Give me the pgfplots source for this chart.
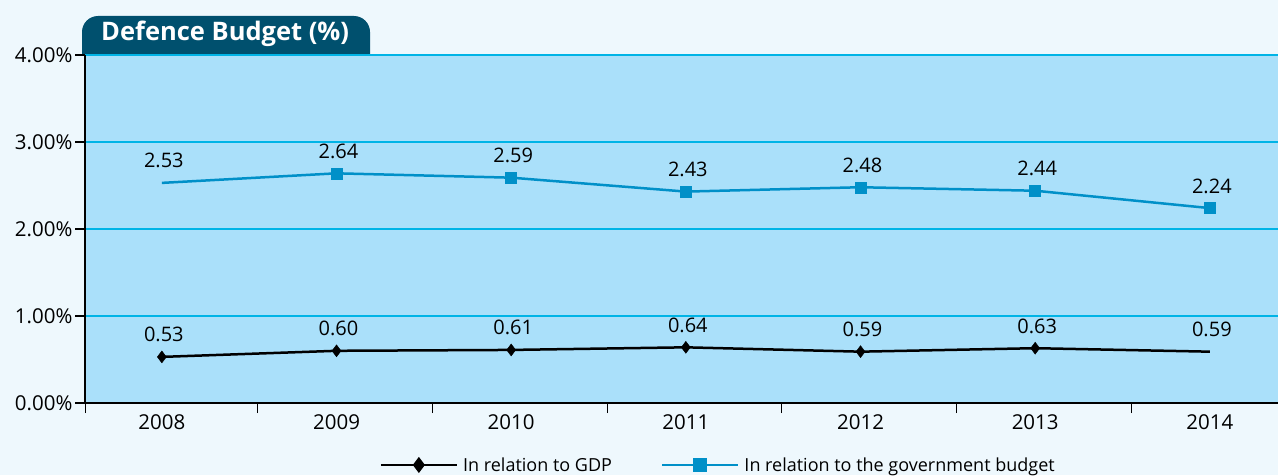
\documentclass[border=0pt]{standalone}
\usepackage{fontspec}
\setmainfont{Open Sans}
\usepackage{pgfplots}
\pgfplotsset{compat=1.18}
\definecolor{outerbg}{HTML}{EEF8FD}
\definecolor{plotbg}{HTML}{AAE0FA}
\definecolor{gridc}{HTML}{00B4E6}
\definecolor{blueline}{HTML}{0090C8}
\definecolor{tabc}{HTML}{00506E}
\begin{document}
\begin{tikzpicture}[x=1pt,y=1pt]
\useasboundingbox (0,0) rectangle (1278,475);
\fill[outerbg] (0,0) rectangle (1278,475);
\fill[tabc] (82,420) [rounded corners=16pt] -- (82,459) -- (370,459) [sharp corners] -- (370,420) -- cycle;
\node[white, font=\bfseries\fontsize{25.5}{30}\selectfont, anchor=base west, inner sep=0] at (101,434) {Defence Budget (\%)};
\begin{axis}[
  at={(85pt,72pt)}, anchor=south west,
  scale only axis, width=1193pt, height=348pt,
  xmin=-0.44, xmax=6.39, ymin=0, ymax=4,
  axis background/.style={fill=plotbg},
  axis x line*=bottom, axis y line*=left,
  axis line style={black, line width=1.8pt},
  xtick={0,...,6}, xticklabels={2008,2009,2010,2011,2012,2013,2014},
  major x tick style={draw=none},
  minor xtick={-0.44,0.55,1.55,2.55,3.55,4.55,5.55},
  minor x tick style={black, line width=1pt},
  minor tick length=10pt,
  ytick={0,1,2,3,4}, yticklabels={0.00\%,1.00\%,2.00\%,3.00\%,4.00\%},
  ytick style={black, line width=1.5pt},
  major tick length=10pt,
  tick align=outside,
  ymajorgrids, major grid style={gridc, line width=1.8pt},
  ticklabel style={font=\fontsize{20.5}{24}\selectfont},
  xticklabel style={yshift=2pt},
  yticklabel style={xshift=1pt},
  clip=false,
  legend style={at={(0.532,-0.178)}, anchor=center, draw=none, fill=none,
    legend columns=2, font=\fontsize{18}{22}\selectfont,
    /tikz/every even column/.append style={column sep=44pt},
    nodes={inner xsep=5pt}},
  legend image code/.code={\draw[mark repeat=2,mark phase=2,#1] plot coordinates {(0pt,0pt) (38pt,0pt) (76pt,0pt)};},
  nodes near coords,
  point meta=y,
  nodes near coords style={/pgf/number format/fixed, /pgf/number format/fixed zerofill, /pgf/number format/precision=2, /pgf/number format/assume math mode=true},
  every node near coord/.append style={font=\fontsize{20}{24}\selectfont, text=black, anchor=base, inner sep=0pt, yshift=15pt, xshift=2pt},
]
% GDP line
\addplot[black, line width=2.5pt, forget plot] coordinates {(0,0.53) (1,0.60) (2,0.61) (3,0.64) (4,0.59) (5,0.63) (6,0.59)};
\addplot[only marks, mark=diamond*, mark size=6pt, black, forget plot, nodes near coords=] coordinates {(0,0.53) (1,0.60) (2,0.61) (3,0.64) (4,0.59) (5,0.63)};
% government budget line
\addplot[blueline, line width=2.5pt, forget plot] coordinates {(0,2.53) (1,2.64) (2,2.59) (3,2.43) (4,2.48) (5,2.44) (6,2.24)};
\addplot[only marks, mark=square*, mark size=5.5pt, blueline, forget plot, nodes near coords=] coordinates {(1,2.64) (2,2.59) (3,2.43) (4,2.48) (5,2.44) (6,2.24)};
\addlegendimage{black, line width=2.5pt, mark=diamond*, mark size=6pt}
\addlegendentry{In relation to GDP}
\addlegendimage{blueline, line width=2.5pt, mark=square*, mark size=5.5pt}
\addlegendentry{In relation to the government budget}
\end{axis}
\end{tikzpicture}
\end{document}
